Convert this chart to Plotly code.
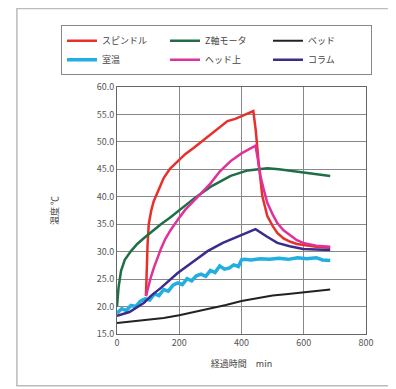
import plotly.graph_objects as go

# 経過時間 (min) と温度 (℃)
spindle_x = [93, 95, 98, 102, 110, 118, 135, 150, 170, 195, 220, 246, 275, 301, 330, 355, 380, 400, 420, 438,
             446, 455, 467, 483, 500, 515, 535, 557, 578, 598, 640, 685]
spindle_y = [21.9, 26, 31, 35.0, 37.5, 39.2, 41.5, 43.4, 45.1, 46.5, 47.8, 48.9, 50.2, 51.4, 52.7, 53.8, 54.2, 54.7, 55.1, 55.6,
             52, 46.2, 40.1, 36.5, 34.7, 33.4, 32.4, 31.8, 31.4, 31.2, 30.9, 30.7]

zmotor_x = [0, 5, 13, 25, 45, 65, 87, 110, 141, 170, 200, 250, 300, 365, 420, 483, 520, 560, 600, 640, 685]
zmotor_y = [20.0, 23.5, 26.5, 28.5, 30.1, 31.4, 32.5, 33.6, 35.0, 36.2, 37.6, 39.8, 41.8, 43.8, 44.8, 45.2, 45.0, 44.7, 44.4, 44.1, 43.8]

bed_x = [0, 50, 100, 150, 200, 250, 300, 350, 400, 450, 500, 550, 600, 650, 685]
bed_y = [17.0, 17.3, 17.6, 17.9, 18.4, 19.0, 19.7, 20.3, 21.0, 21.5, 22.0, 22.3, 22.6, 22.9, 23.1]

room_x = [0, 15, 30, 45, 60, 75, 90, 105, 120, 135, 150, 165, 180, 195, 210, 225, 240, 255, 270, 285, 300,
          315, 330, 345, 360, 375, 390, 400, 410, 430, 460, 490, 520, 550, 580, 610, 640, 660, 685]
room_y = [18.8, 19.6, 19.3, 20.2, 20.0, 21.0, 21.4, 21.2, 22.3, 22.0, 23.1, 22.8, 23.9, 24.3, 24.0, 25.1, 24.7, 25.6, 25.9, 25.5, 26.6,
          26.2, 27.4, 26.8, 27.0, 27.6, 27.3, 28.5, 28.6, 28.5, 28.7, 28.6, 28.8, 28.6, 28.9, 28.7, 28.9, 28.5, 28.4]

head_x = [93, 100, 108, 118, 130, 141, 155, 173, 200, 220, 246, 275, 300, 330, 365, 400, 425, 445,
          452, 461, 472, 483, 500, 515, 535, 557, 578, 598, 640, 685]
head_y = [21.9, 23.5, 25.2, 27.0, 28.9, 30.5, 32.3, 34.0, 36.2, 37.7, 39.2, 40.9, 42.4, 44.6, 46.5, 47.9, 48.6, 49.3,
          47.0, 43.8, 41.2, 38.9, 36.8, 35.2, 33.9, 32.9, 32.1, 31.6, 31.1, 30.9]

column_x = [0, 40, 87, 110, 141, 170, 195, 240, 291, 340, 400, 445, 480, 515, 555, 598, 640, 685]
column_y = [18.3, 19.0, 20.7, 22.0, 23.4, 24.9, 26.1, 28.0, 30.1, 31.6, 33.0, 34.1, 32.8, 31.6, 31.0, 30.5, 30.4, 30.3]

FONT = "Noto Sans CJK JP"

fig = go.Figure()
# legend fills row by row: スピンドル, Z軸モータ, ベッド / 室温, ヘッド上, コラム
fig.add_trace(go.Scatter(x=spindle_x, y=spindle_y, mode='lines', name='スピンドル',
                         line=dict(color='#e8302a', width=2.5)))
fig.add_trace(go.Scatter(x=zmotor_x, y=zmotor_y, mode='lines', name='Z軸モータ',
                         line=dict(color='#1f6e46', width=2.5)))
fig.add_trace(go.Scatter(x=bed_x, y=bed_y, mode='lines', name='ベッド',
                         line=dict(color='#222222', width=2)))
fig.add_trace(go.Scatter(x=room_x, y=room_y, mode='lines', name='室温',
                         line=dict(color='#22aee0', width=3.5)))
fig.add_trace(go.Scatter(x=head_x, y=head_y, mode='lines', name='ヘッド上',
                         line=dict(color='#e0309c', width=2.5)))
fig.add_trace(go.Scatter(x=column_x, y=column_y, mode='lines', name='コラム',
                         line=dict(color='#3a2b8c', width=2.5)))

fig.update_xaxes(range=[0, 800], dtick=200, showgrid=True, gridcolor='#888', gridwidth=1,
                 showline=True, linecolor='#666', mirror=True, ticks='', automargin=False,
                 tickfont=dict(size=9, color='#555'),
                 title=dict(text='経過時間　min', font=dict(size=9, color='#444'), standoff=12))
fig.update_yaxes(range=[15, 60], dtick=5, tickformat='.1f', showgrid=True, gridcolor='#888', gridwidth=1,
                 showline=True, linecolor='#666', mirror=True, ticks='', zeroline=False, automargin=False,
                 tickfont=dict(size=9, color='#555'),
                 title=dict(text='温度 ℃', font=dict(size=9, color='#444'), standoff=36))

fig.update_layout(
    width=396, height=389,
    margin=dict(l=109, r=38, t=79, b=63, autoexpand=False),
    paper_bgcolor='white', plot_bgcolor='white',
    font=dict(family=FONT),
    legend=dict(orientation='h', x=-0.225, y=1.25, xanchor='left', yanchor='top',
                entrywidth=58, entrywidthmode='pixels', bordercolor='#888', borderwidth=1,
                font=dict(size=9, color='#444'), tracegroupgap=0, itemwidth=30),
    shapes=[dict(type='rect', xref='paper', yref='paper', x0=-0.402, x1=1.100, y0=-0.21, y1=1.318,
                 line=dict(color='#bbbbbb', width=1.5), layer='below')],
)

fig.write_html("out.html")
